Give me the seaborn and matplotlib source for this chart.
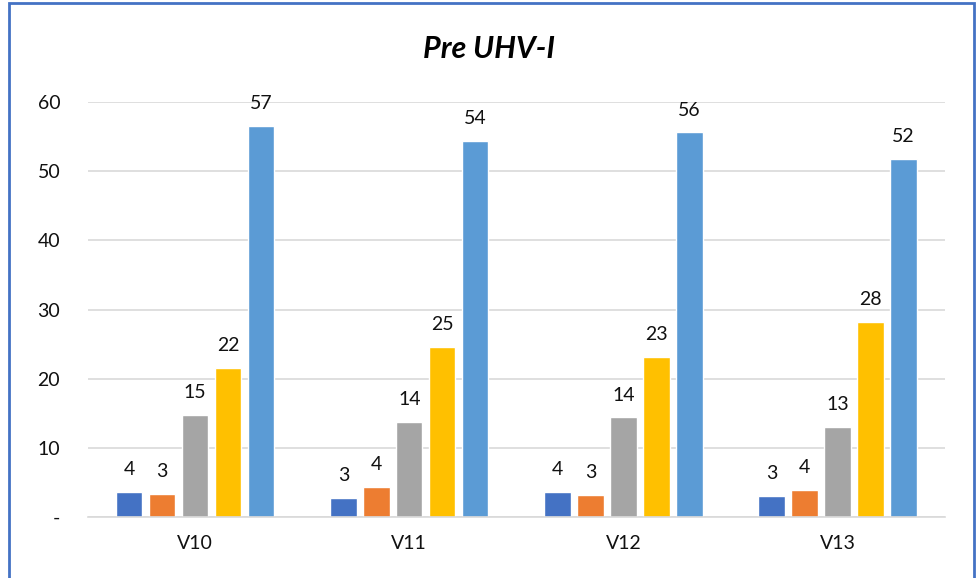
import pandas as pd
import seaborn as sns
import matplotlib.pyplot as plt
from matplotlib.patches import Rectangle

# survey response shares per question (percent)
questions = ["V10", "V11", "V12", "V13"]
levels = ["Strongly disagree", "Disagree", "Neutral", "Agree", "Strongly agree"]
strongly_disagree = [3.6, 2.8, 3.6, 3.0]
disagree = [3.3, 4.4, 3.15, 3.95]
neutral = [14.8, 13.8, 14.4, 13.0]
agree = [21.6, 24.6, 23.2, 28.2]
strongly_agree = [56.6, 54.4, 55.6, 51.8]
colors = ["#4472C4", "#ED7D31", "#A5A5A5", "#FFC000", "#5B9BD5"]

series = [strongly_disagree, disagree, neutral, agree, strongly_agree]
rows = []
for lvl, vals in zip(levels, series):
    for q, v in zip(questions, vals):
        rows.append({"question": q, "level": lvl, "pct": v})
df = pd.DataFrame(rows)

sns.set_theme(style="white")
plt.rcParams["font.family"] = ["Lato", "DejaVu Sans"]

fig = plt.figure(figsize=(9.78, 5.78), dpi=100)
ax = fig.add_axes([0.09, 0.1055, 0.876, 0.718])

sns.barplot(data=df, x="question", y="pct", hue="level", order=questions,
            hue_order=levels, palette=colors, width=0.77, gap=0.2,
            errorbar=None, legend=False, ax=ax, saturation=1)

# value labels on top of the bars
for cont in ax.containers:
    ax.bar_label(cont, fmt="{:.0f}", padding=10, fontsize=14, color="#111111")

ax.set_ylim(0, 60)
ax.set_yticks(range(0, 61, 10))
ax.set_yticklabels(["-"] + [str(t) for t in range(10, 61, 10)])
ax.set_xlim(-0.5, 3.5)
ax.yaxis.grid(True, color="#D9D9D9", lw=1.2)
ax.set_axisbelow(True)
for s in ["top", "right", "left"]:
    ax.spines[s].set_visible(False)
ax.spines["bottom"].set_color("#D9D9D9")
ax.spines["bottom"].set_linewidth(1.2)
ax.tick_params(axis="y", length=0, pad=20, labelsize=14, labelcolor="#111111")
ax.tick_params(axis="x", length=0, pad=13, labelsize=14, labelcolor="#111111")
ax.set_xlabel("")
ax.set_ylabel("")

fig.text(0.5, 0.915, "Pre UHV-I", ha="center", va="center",
         fontsize=22, fontweight="bold", fontstyle="italic", color="black")

# chart border
fig.patches.append(Rectangle((0.009, -0.05), 0.987, 1.045, transform=fig.transFigure,
                             fill=False, edgecolor="#4472C4", lw=2, clip_on=False))

fig.savefig("out.png", dpi=100)
